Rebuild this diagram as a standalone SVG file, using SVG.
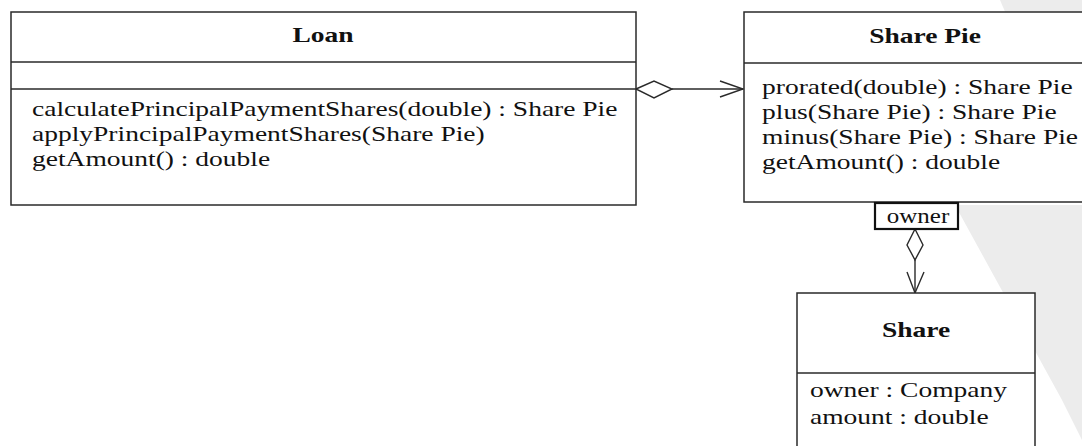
<svg xmlns="http://www.w3.org/2000/svg" width="1082" height="446" viewBox="0 0 1082 446">
<style>
.box{fill:#fff;stroke:#2a2a2a;stroke-width:1.5}
.sep{stroke:#2a2a2a;stroke-width:1.5}
.t{font-family:"Liberation Serif","Times New Roman",serif;font-size:22px;fill:#111}
.b{font-weight:bold}
.s{font-size:20px}
.edge{stroke:#2a2a2a;stroke-width:1.4;fill:none}
.dia{fill:#fff;stroke:#2a2a2a;stroke-width:1.4}
</style>
<rect width="1082" height="446" fill="#fff"/>
<g id="watermark" fill="#ececec">
<polygon points="955,205 1082,205 1082,440 1062,400"/>
<polygon points="1000,0 1082,0 1082,60 1030,70"/>
</g>
<g id="connectors">
<line class="edge" x1="672" y1="89" x2="743" y2="89"/>
<polyline class="edge" points="720,81 743,89 720,97"/>
<polygon class="dia" points="636,89 654,81 672,89 654,98"/>
<line class="edge" x1="915" y1="260" x2="915" y2="293"/>
<polyline class="edge" points="907,272 915,293 924,272"/>
<polygon class="dia" points="915,229 923,245 915,260 907,245"/>
</g>
<g id="loan">
<rect class="box" x="11" y="12" width="625" height="193"/>
<line class="sep" x1="11" y1="62" x2="636" y2="62"/>
<line class="sep" x1="11" y1="89" x2="636" y2="89"/>
<text class="t b" transform="translate(323,42) scale(1.25,1)" text-anchor="middle">Loan</text>
<text class="t" transform="translate(32,116) scale(1.25,1)">calculatePrincipalPaymentShares(double) : Share Pie</text>
<text class="t" transform="translate(32,141) scale(1.25,1)">applyPrincipalPaymentShares(Share Pie)</text>
<text class="t" transform="translate(32,166) scale(1.25,1)">getAmount() : double</text>
</g>
<g id="sharepie">
<rect class="box" x="744" y="12" width="360" height="190"/>
<line class="sep" x1="744" y1="63" x2="1104" y2="63"/>
<text class="t b" transform="translate(925,43) scale(1.25,1)" text-anchor="middle">Share Pie</text>
<text class="t" transform="translate(762,94) scale(1.25,1)">prorated(double) : Share Pie</text>
<text class="t" transform="translate(762,119) scale(1.25,1)">plus(Share Pie) : Share Pie</text>
<text class="t" transform="translate(762,144) scale(1.25,1)">minus(Share Pie) : Share Pie</text>
<text class="t" transform="translate(762,169) scale(1.25,1)">getAmount() : double</text>
</g>
<g id="owner-label">
<rect x="875" y="203" width="83" height="26" fill="#fff" stroke="#111" stroke-width="2.2"/>
<text class="t s" transform="translate(918,223) scale(1.25,1)" text-anchor="middle">owner</text>
</g>
<g id="share">
<rect class="box" x="797" y="293" width="238" height="170"/>
<line class="sep" x1="797" y1="373" x2="1035" y2="373"/>
<text class="t b" transform="translate(916,337) scale(1.25,1)" text-anchor="middle">Share</text>
<text class="t" transform="translate(810,397) scale(1.25,1)">owner : Company</text>
<text class="t" transform="translate(810,424) scale(1.25,1)">amount : double</text>
</g>
</svg>
